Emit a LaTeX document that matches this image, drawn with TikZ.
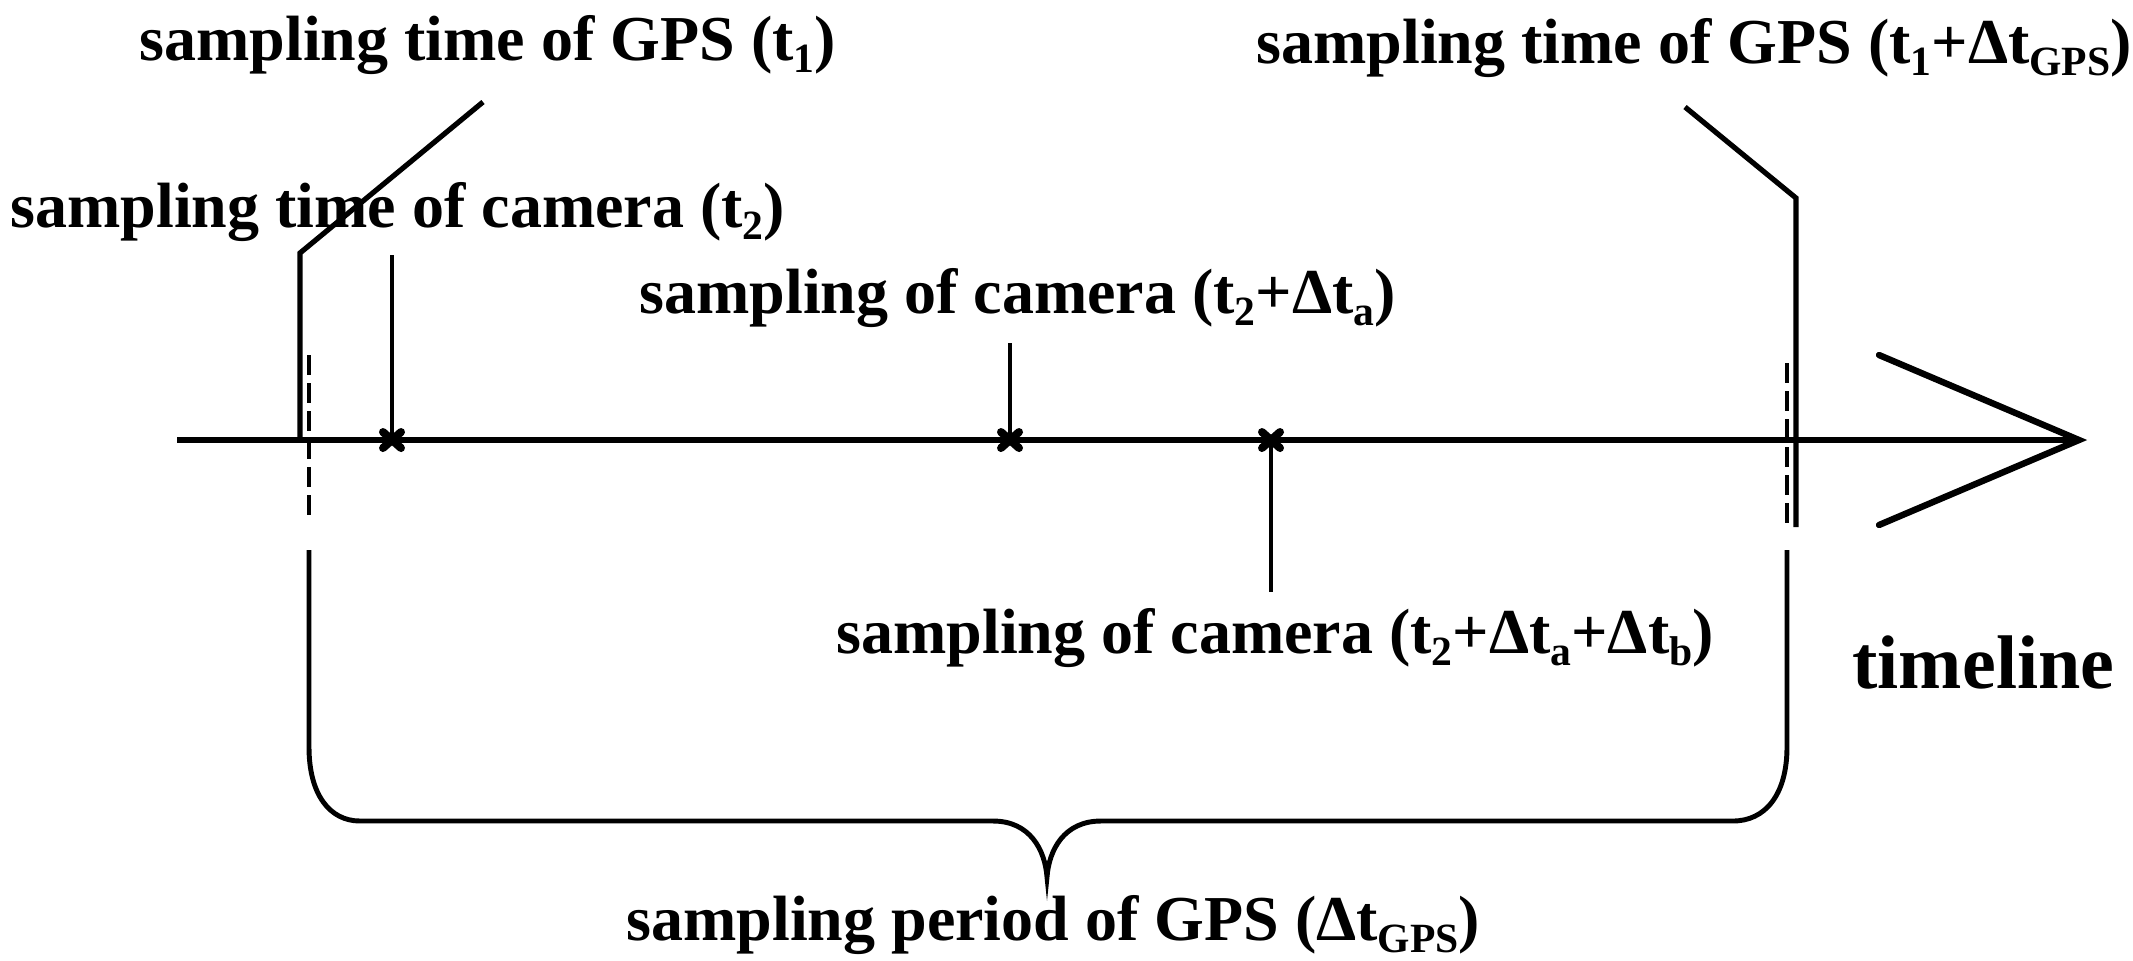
\documentclass[tikz,border=0pt]{standalone}
\usepackage{fontspec}
\setmainfont{Liberation Serif}
\newcommand\lo[1]{\raisebox{-0.2em}{\scalebox{0.65}{#1}}}
\begin{document}
\begin{tikzpicture}[x=0.375pt,y=-0.375pt,
  lbl/.style={font=\fontsize{24}{28}\selectfont\bfseries, inner sep=0pt, anchor=base west},
  thk/.style={line width=1.95pt},
  cam/.style={line width=1.55pt},
  dsh/.style={line width=1.75pt, dash pattern=on 7.5pt off 3pt},
  brc/.style={line width=1.85pt},
  xmk/.pic={\draw[line width=3pt,line cap=round] (-9,-8)--(9,8) (-9,8)--(9,-8);}]
\useasboundingbox (0,0) rectangle (2133,960);
% labels
\node[lbl] (t1) at (139,60) {sampling time of GPS (t\lo{1})};
\node[lbl] (t2) at (10,227) {sampling time of camera (t\lo{2})};
\node[lbl] (ta) at (639,313) {sampling of camera (t\lo{2}+Δt\lo{a})};
\node[lbl] (tg) at (1256,63) {sampling time of GPS (t\lo{1}+Δt\lo{GPS})};
\node[lbl] (tb) at (836,653) {sampling of camera (t\lo{2}+Δt\lo{a}+Δt\lo{b})};
\node[lbl, font=\fontsize{28.5}{32}\selectfont\bfseries] (tl) at (1852,688) {timeline};
\node[lbl] (tp) at (626,940) {sampling period of GPS (Δt\lo{GPS})};
% coordinates
\coordinate (axs) at (177,440);
\coordinate (axe) at (2079,440);
\coordinate (arU) at (1879,355);
\coordinate (arD) at (1879,525);
\coordinate (g1a) at (483,102);
\coordinate (g1b) at (300,253);
\coordinate (g1c) at (300,440);
\coordinate (g2a) at (1685,107);
\coordinate (g2b) at (1796,198);
\coordinate (g2c) at (1796,527);
\coordinate (c1) at (392,440);
\coordinate (c1t) at (392,255);
\coordinate (c2) at (1010,440);
\coordinate (c2t) at (1010,343);
\coordinate (c3) at (1271,440);
\coordinate (c3b) at (1271,592);
% timeline and arrow
\draw[thk] (axs) -- (axe);
\draw[line width=2.4pt, line cap=round, line join=miter] (arU) -- (axe) -- (arD);
% GPS sampling marks
\draw[thk] (g1a) -- (g1b) -- (g1c);
\draw[thk] (g2a) -- (g2b) -- (g2c);
\draw[dsh] (309,355) -- (309,518);
\draw[dsh] (1787,363) -- (1787,525);
% camera sampling marks
\draw[cam] (c1t) -- (c1);
\draw[cam] (c2t) -- (c2);
\draw[cam] (c3) -- (c3b);
\pic at (c1) {xmk};
\pic at (c2) {xmk};
\pic at (c3) {xmk};
% brace
\draw[brc] (309,550) -- (309,747) .. controls (309,795) and (330,821) .. (360,821)
  -- (993,821) .. controls (1030,821) and (1045,850) .. (1047,877)
  .. controls (1049,850) and (1064,821) .. (1101,821)
  -- (1733,821) .. controls (1765,821) and (1787,795) .. (1787,747) -- (1787,550);
\end{tikzpicture}
\end{document}
